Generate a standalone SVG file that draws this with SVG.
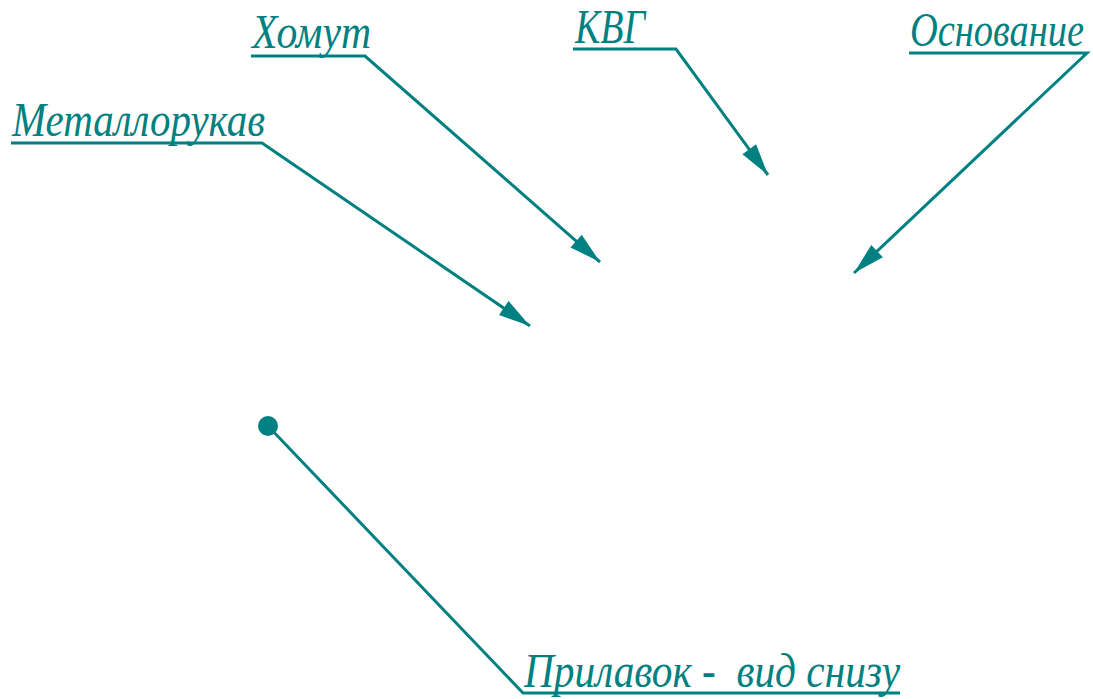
<svg xmlns="http://www.w3.org/2000/svg" width="1093" height="699" viewBox="0 0 1093 699">
<style>
.lbl{font-family:"Liberation Serif","Times New Roman",serif;font-style:italic;fill:#008080;font-size:48px;white-space:pre}
.ln{fill:none;stroke:#008080;stroke-width:3;stroke-linejoin:miter}
</style>
<defs>
<marker id="arr" markerUnits="userSpaceOnUse" markerWidth="36" markerHeight="24" viewBox="-32 -10 34 20" refX="0" refY="0" orient="auto">
<path d="M0,0 L-30,-8 L-30,8 Z" fill="#008080"/>
</marker>
</defs>
<rect width="1093" height="699" fill="#fff"/>
<g id="connectors">
<polyline class="ln" points="251,56 365,56 600,262" marker-end="url(#arr)"/>
<polyline class="ln" points="573,49 676,49 768,175" marker-end="url(#arr)"/>
<polyline class="ln" points="909,53 1087,53 854,273" marker-end="url(#arr)"/>
<polyline class="ln" points="11,143 262,143 530,326" marker-end="url(#arr)"/>
<polyline class="ln" points="900,693 523,693 268,426"/>
<ellipse cx="268" cy="426" rx="10" ry="10" fill="#008080"/>
</g>
<g id="n-homut"><text class="lbl" x="252" y="48" textLength="119" lengthAdjust="spacingAndGlyphs">Хомут</text></g>
<g id="n-kvg"><text class="lbl" x="575" y="43" textLength="70" lengthAdjust="spacingAndGlyphs">КВГ</text></g>
<g id="n-osnovanie"><text class="lbl" x="910" y="46" font-size="46" textLength="174" lengthAdjust="spacingAndGlyphs">Основание</text></g>
<g id="n-metall"><text class="lbl" x="12" y="136" textLength="253" lengthAdjust="spacingAndGlyphs">Металлорукав</text></g>
<g id="n-prilavok"><text class="lbl" x="524" y="687" xml:space="preserve" textLength="376" lengthAdjust="spacingAndGlyphs">Прилавок -  вид снизу</text></g>
</svg>
